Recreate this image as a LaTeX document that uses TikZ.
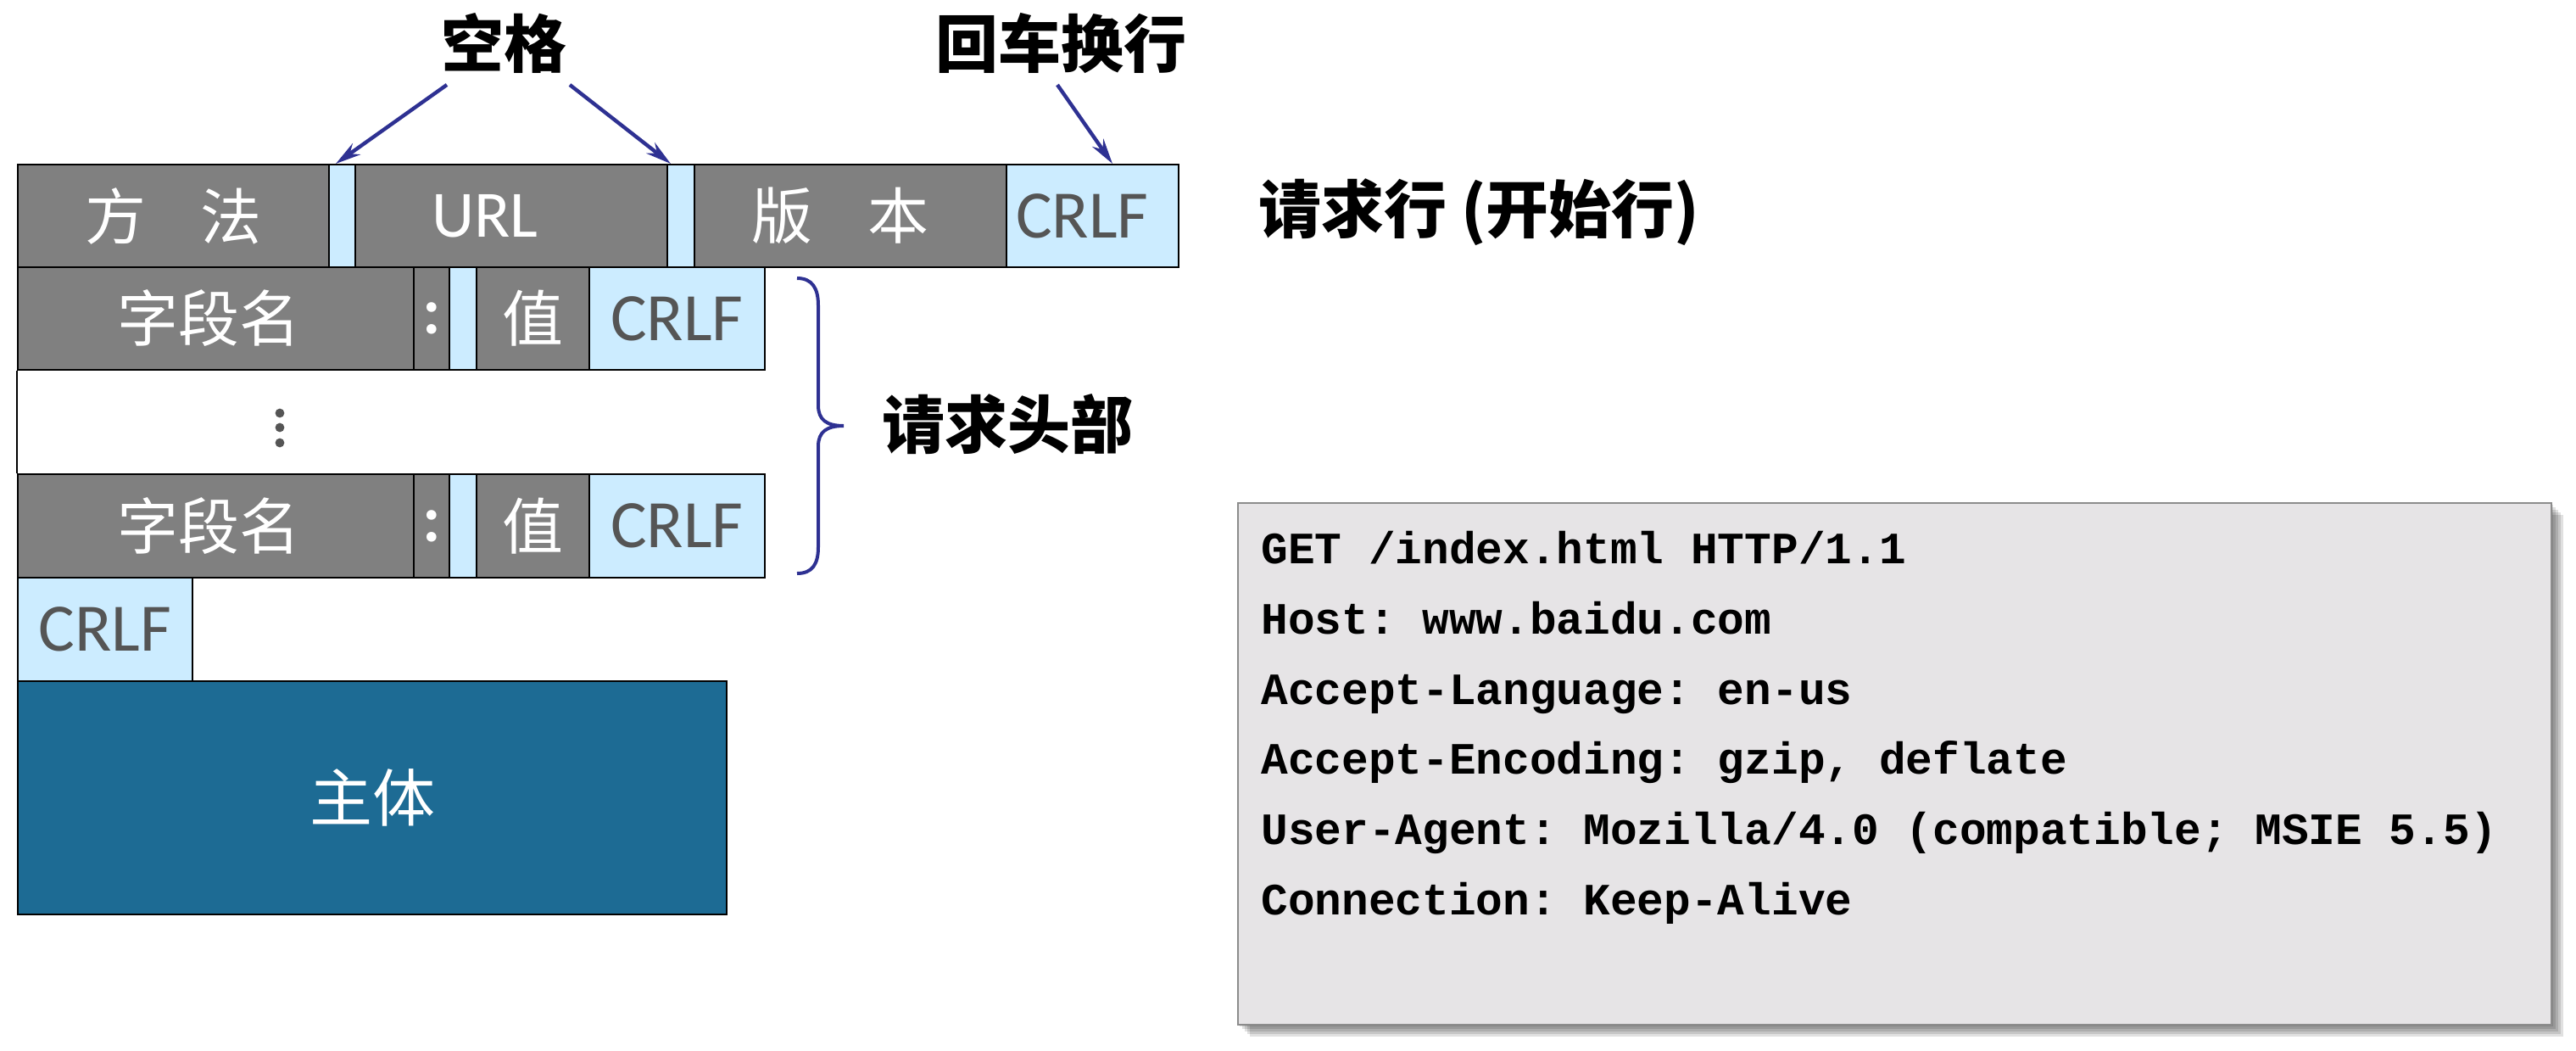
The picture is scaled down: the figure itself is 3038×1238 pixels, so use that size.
\documentclass[tikz,border=0pt]{standalone}
\usepackage{fontspec}
\setmainfont{Liberation Sans}
\newfontfamily\cjk{Noto Sans CJK SC}
\newfontfamily\crlffont{Carlito}
\newfontfamily\codefont{Liberation Mono}
\usetikzlibrary{arrows.meta}
\definecolor{cellgray}{HTML}{808080}
\definecolor{lblue}{HTML}{CCECFF}
\definecolor{crlfgray}{HTML}{555555}
\definecolor{bodyblue}{HTML}{1D6B94}
\definecolor{navy}{HTML}{2E3192}
\definecolor{codebg}{HTML}{E6E4E6}
\definecolor{codeborder}{HTML}{8C8C8C}
\definecolor{dotgray}{HTML}{555555}
\newcommand\padR[1]{\kern#1\relax}
\begin{document}
\begin{tikzpicture}[x=0.5pt,y=-0.5pt,
  cell/.style 2 args={draw=black, line width=1pt, anchor=north west, inner sep=0pt,
    minimum width=#1*0.5pt, minimum height=#2*0.5pt},
  g/.style={fill=cellgray, text=white, font=\cjk\fontsize{36}{36}\selectfont},
  gl/.style={fill=cellgray, text=white, font=\crlffont\fontsize{39}{39}\selectfont},
  lb/.style={fill=lblue, text=crlfgray, font=\crlffont\fontsize{40}{40}\selectfont},
  sp/.style={fill=lblue},
  lab/.style={text=black, font=\cjk\bfseries\fontsize{37}{37}\selectfont, inner sep=0pt},
  arr/.style={draw=navy, line width=2.2pt, -{Stealth[length=15pt,width=8pt]}},
  code/.style={anchor=base west, inner sep=0pt, font=\codefont\bfseries\fontsize{26.4}{26.4}\selectfont\frenchspacing},
  shad/.style={fill=black, opacity=0.12, draw=none}
]
\useasboundingbox (0,0) rectangle (3038,1238);

% ---- request line ----
\node[cell={367}{121}, g]  (m)    at (20,193)   {方\hspace{0.9em}法};
\node[cell={31}{121}, sp]  (sp1)  at (387,193)  {};
\node[cell={368}{121}, gl] (url)  at (418,193)  {URL\padR{31pt}};
\node[cell={32}{121}, sp]  (sp2)  at (786,193)  {};
\node[cell={368}{121}, g]  (ver)  at (818,193)  {版\hspace{0.9em}本\padR{12pt}};
\node[cell={203}{121}, lb] (cr1)  at (1186,193) {CRLF\padR{12pt}};

% ---- header line 1 ----
\node[cell={467}{121}, g]  (f1)  at (20,314)  {字段名\padR{8pt}};
\node[cell={42}{121}, gl]  (c1)  at (487,314) {\bfseries :};
\node[cell={32}{121}, sp]  (s1)  at (529,314) {};
\node[cell={133}{121}, g]  (v1)  at (561,314) {值};
\node[cell={207}{121}, lb] (cr2) at (694,314) {CRLF};

% ---- header line n ----
\node[cell={467}{122}, g]  (f2)  at (20,558)  {字段名\padR{8pt}};
\node[cell={42}{122}, gl]  (c2)  at (487,558) {\bfseries :};
\node[cell={32}{122}, sp]  (s2)  at (529,558) {};
\node[cell={133}{122}, g]  (v2)  at (561,558) {值};
\node[cell={207}{122}, lb] (cr3) at (694,558) {CRLF};

% ---- blank line and body ----
\node[cell={206}{122}, lb] (cr4) at (20,680) {CRLF};
\node[cell={836}{275}, fill=bodyblue, text=white, font=\cjk\fontsize{37}{37}\selectfont] (body) at (20,802) {主体};

% left edge through the gap
\draw[line width=1pt] (f1.south west) -- (f2.north west);

% vertical dots
\fill[dotgray] (330,487) circle[radius=2.7pt];
\fill[dotgray] (330,504) circle[radius=2.7pt];
\fill[dotgray] (330,522) circle[radius=2.7pt];

% ---- labels ----
\node[lab] (kg) at (594,51) {空格};
\node[lab] (hc) at (1251,51) {回车换行};
\node[lab, anchor=west] (qh) at (1484,250) {请求行 (开始行)};
\node[lab, anchor=west] (tb) at (1040,500) {请求头部};

% ---- arrows ----
\coordinate (a1s) at (527,100);
\coordinate (a1e) at (396,193);
\coordinate (a2s) at (672,100);
\coordinate (a2e) at (791,193);
\coordinate (a3s) at (1247,100);
\coordinate (a3e) at (1312,193);
\draw[arr] (a1s) -- (a1e);
\draw[arr] (a2s) -- (a2e);
\draw[arr] (a3s) -- (a3e);

% ---- brace ----
\draw[navy, line width=2pt]
  (940,328) .. controls (958,328) and (965,340) .. (965,360)
  -- (965,478) .. controls (965,495) and (975,502) .. (995,502)
  .. controls (975,502) and (965,509) .. (965,526)
  -- (965,645) .. controls (965,665) and (958,676) .. (940,676);

% ---- example box ----
\foreach \d in {3,6,9,12,15}
  \fill[shad] (1459+\d,592+\d) rectangle (3008+\d,1207+\d);
\node[draw=codeborder, line width=1.2pt, fill=codebg, anchor=north west, inner sep=0pt,
  minimum width=1549*0.5pt, minimum height=615*0.5pt] (ex) at (1459,592) {};
\node[code] (l1) at (1487,664)  {GET /index.html HTTP/1.1};
\node[code] (l2) at (1487,747)  {Host: www.baidu.com};
\node[code] (l3) at (1487,830)  {Accept-Language: en-us};
\node[code] (l4) at (1487,912)  {Accept-Encoding: gzip, deflate};
\node[code] (l5) at (1487,995)  {User-Agent: Mozilla/4.0 (compatible; MSIE 5.5)};
\node[code] (l6) at (1487,1078) {Connection: Keep-Alive};
\end{tikzpicture}
\end{document}
